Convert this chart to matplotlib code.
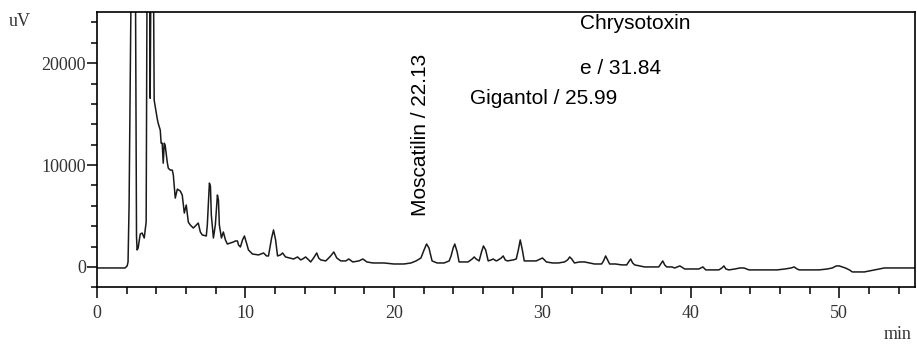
import matplotlib
matplotlib.use("Agg")
import matplotlib.pyplot as plt
from matplotlib.ticker import MultipleLocator

# retention time (min) and detector signal (uV)
time_min = [0.0, 0.88, 1.89, 2.03, 2.09, 2.16, 2.50, 2.66, 2.70, 2.77, 2.91, 3.04, 3.18, 3.31,
            3.45, 3.58, 3.72, 3.85, 4.05, 4.12, 4.26, 4.32, 4.39, 4.46, 4.53, 4.59, 4.73, 4.80,
            4.93, 5.07, 5.14, 5.27, 5.41, 5.61, 5.74, 5.88, 6.01, 6.15, 6.28, 6.49, 6.69, 6.82,
            6.96, 7.09, 7.36, 7.43, 7.57, 7.64, 7.70, 7.84, 7.97, 8.11, 8.18, 8.24, 8.38, 8.51,
            8.65, 8.78, 8.99, 9.19, 9.32, 9.46, 9.53, 9.66, 9.80, 9.93, 10.07, 10.20, 10.47, 10.88,
            11.22, 11.42, 11.55, 11.76, 11.89, 12.03, 12.16, 12.36, 12.50, 12.70, 12.97, 13.24, 13.51,
            13.72, 13.85, 14.05, 14.26, 14.39, 14.59, 14.80, 14.93, 15.07, 15.41, 15.74, 15.95, 16.15,
            16.42, 16.76, 16.96, 17.23, 17.64, 17.91, 18.18, 18.58, 19.32, 20.0, 20.68, 21.15, 21.49,
            21.82, 22.03, 22.20, 22.36, 22.57, 22.91, 23.38, 23.72, 23.85, 23.99, 24.10, 24.26, 24.39,
            24.66, 25.0, 25.27, 25.41, 25.54, 25.74, 25.90, 26.03, 26.18, 26.35, 26.55, 26.69, 26.89,
            27.03, 27.23, 27.36, 27.5, 27.64, 28.04, 28.24, 28.38, 28.51, 28.65, 28.78, 29.12, 29.59,
            29.86, 30.0, 30.14, 30.27, 30.68, 31.08, 31.49, 31.70, 31.84, 31.98, 32.16, 32.5, 32.84,
            33.18, 33.51, 33.99, 34.12, 34.26, 34.39, 34.53, 34.93, 35.34, 35.68, 35.81, 35.95, 36.08,
            36.22, 36.55, 36.89, 37.36, 37.84, 37.97, 38.11, 38.24, 38.38, 38.72, 38.92, 39.26, 39.59,
            40.07, 40.54, 40.81, 41.01, 41.42, 41.89, 42.09, 42.23, 42.36, 42.57, 42.97, 43.31, 43.58,
            43.92, 44.46, 45.27, 45.81, 46.35, 46.76, 46.96, 47.16, 47.3, 47.97, 48.65, 49.19, 49.53,
            49.8, 50.0, 50.2, 50.41, 50.68, 50.88, 51.35, 51.69, 52.03, 52.36, 52.7, 53.04, 53.38,
            54.05, 54.93, 55.14]
signal_uv = [-100, -100, -100, 100, 490, 6080, 60000, 3000, 1670, 1860, 3230, 3330, 2840, 4410,
             60000, 16560, 50000, 16370, 14600, 14110, 13430, 12150, 12150, 10190, 12150, 11960, 10290, 9700,
             9510, 9510, 9020, 6760, 7640, 7450, 7060, 5290, 6080, 4410, 4120, 3820, 4120, 4310,
             3430, 3140, 3040, 4120, 8230, 7940, 5100, 2840, 4120, 7060, 6570, 4120, 2840, 3430,
             2650, 2250, 2350, 2450, 2550, 2550, 2160, 1960, 2650, 3040, 2350, 1670, 1270, 1180,
             1370, 1080, 1080, 2840, 3630, 2650, 1080, 1180, 1370, 980, 880, 780, 980,
             690, 780, 980, 690, 490, 880, 1370, 880, 690, 590, 1080, 1470, 880,
             590, 590, 780, 490, 590, 780, 490, 390, 390, 290, 290, 390, 590,
             880, 1670, 2250, 1860, 590, 390, 390, 590, 1080, 1860, 2250, 1470, 490,
             490, 490, 780, 980, 780, 590, 1470, 2060, 1670, 590, 690, 780, 590,
             690, 880, 1080, 690, 590, 690, 780, 1670, 2650, 1670, 590, 590, 590,
             780, 880, 690, 490, 390, 390, 490, 690, 980, 780, 390, 490, 490,
             390, 290, 290, 590, 1080, 690, 290, 290, 200, 200, 490, 780, 390,
             200, 100, 0, 0, 0, 290, 590, 200, 0, 0, -100, 100, -200,
             -200, -200, 0, -290, -290, -290, -100, 100, -200, -290, -200, -100, -100,
             -290, -290, -290, -290, -200, -100, 0, -200, -290, -290, -290, -200, -100,
             100, 100, 0, -100, -290, -490, -490, -490, -390, -290, -200, -100, -100,
             -100, -100, -100]

peak_labels = ["Moscatilin / 22.13", "Gigantol / 25.99", "Chrysotoxin", "e / 31.84"]

fig = plt.figure(figsize=(9.17, 3.47), dpi=100)
ax = fig.add_axes([0.1058, 0.172, 0.892, 0.7926])

ax.plot(time_min, signal_uv, color='#1a1a1a', lw=1.1)

ax.set_xlim(0, 55.1)
ax.set_ylim(-2000, 25000)

ax.xaxis.set_major_locator(MultipleLocator(10))
ax.xaxis.set_minor_locator(MultipleLocator(2))
ax.yaxis.set_major_locator(MultipleLocator(10000))
ax.yaxis.set_minor_locator(MultipleLocator(2000))

tickfont = 'Liberation Serif'
ax.tick_params(axis='x', which='major', length=8, width=1.1, pad=5, labelsize=13)
ax.tick_params(axis='x', which='minor', length=5, width=1.1)
ax.tick_params(axis='y', which='major', length=7, width=1.1, pad=1, labelsize=13)
ax.tick_params(axis='y', which='minor', length=4, width=1.1)
for lab in ax.get_xticklabels() + ax.get_yticklabels():
    lab.set_fontfamily(tickfont)
    lab.set_color('#333333')
for s in ax.spines.values():
    s.set_linewidth(1.2)

fig.text(0.022, 0.937, 'uV', family=tickfont, fontsize=13, ha='center', va='center', color='#333333')
fig.text(0.979, 0.035, 'min', family=tickfont, fontsize=13, ha='center', va='center', color='#333333')

sans = 'Liberation Sans'
ax.text(21.82, 12950, peak_labels[0], rotation=90, family=sans, fontsize=15, ha='center', va='center')
ax.text(25.12, 16500, peak_labels[1], family=sans, fontsize=15, ha='left', va='center')
ax.text(32.53, 23860, peak_labels[2], family=sans, fontsize=15, ha='left', va='center')
ax.text(32.53, 19490, peak_labels[3], family=sans, fontsize=15, ha='left', va='center')

fig.savefig('out.png', dpi=100)
